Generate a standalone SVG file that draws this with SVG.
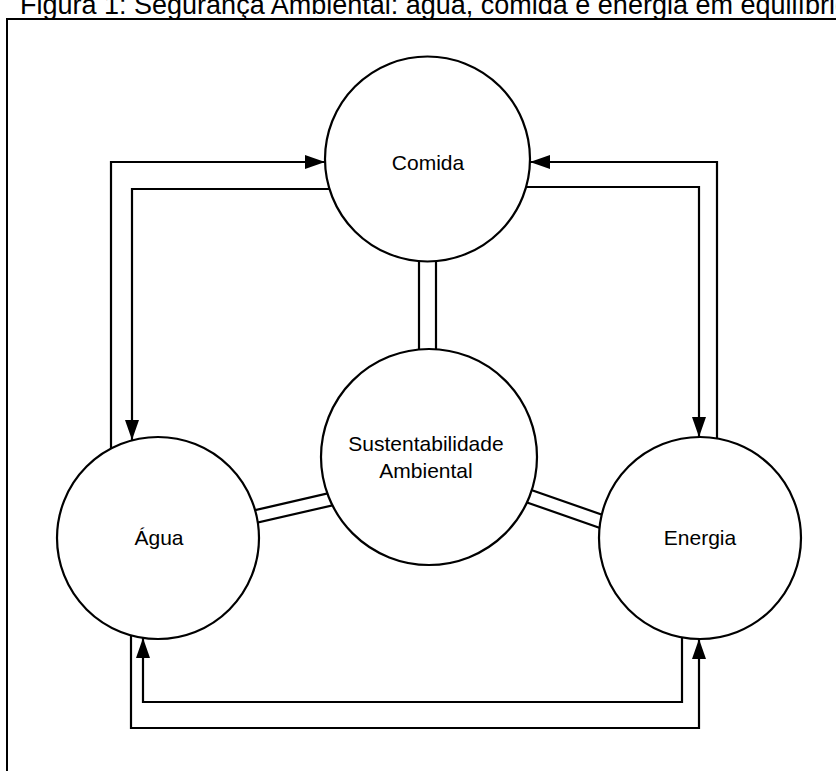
<svg xmlns="http://www.w3.org/2000/svg" width="836" height="771" viewBox="0 0 836 771">
<style>
.node circle{fill:#fff;stroke:#000;stroke-width:2.2}
.lbl{font-family:"Liberation Sans",Arial,sans-serif;font-size:21px;fill:#000;text-anchor:middle}
.conn path{fill:none;stroke:#000;stroke-width:2.2}
.band{fill:#fff;stroke:#000;stroke-width:2.2}
</style>
<defs>
<marker id="ah" markerUnits="userSpaceOnUse" markerWidth="22" markerHeight="16" refX="20" refY="7" orient="auto">
<path d="M0,0 L20,7 L0,14 Z" fill="#000"/>
</marker>
</defs>
<rect width="836" height="771" fill="#fff"/>
<text x="20" y="14" font-family="'Liberation Sans',Arial,sans-serif" font-size="27" fill="#000">Figura 1: Segurança Ambiental: água, comida e energia em equilíbrio</text>
<path d="M7,771 V19 H836" fill="none" stroke="#000" stroke-width="2"/>
<g id="bands">
<rect class="band" x="419" y="240" width="17" height="120"/>
<polygon class="band" points="230,516 360,486 360,499 230,529"/>
<polygon class="band" points="500,479 640,528 640,542 500,493"/>
</g>
<g id="comida" class="node"><circle cx="427.5" cy="159" r="102.5"/><text class="lbl" x="428" y="170">Comida</text></g>
<g id="sustentabilidade" class="node"><circle cx="429" cy="457" r="108"/><text class="lbl" x="426" y="451">Sustentabilidade</text><text class="lbl" x="426" y="478">Ambiental</text></g>
<g id="agua" class="node"><circle cx="158" cy="538" r="101"/><text class="lbl" x="159" y="545">Água</text></g>
<g id="energia" class="node"><circle cx="700" cy="538" r="101"/><text class="lbl" x="700" y="545">Energia</text></g>
<g id="connectors" class="conn">
<path d="M111,449 V162 H325" marker-end="url(#ah)"/>
<path d="M329,189 H132 V440" marker-end="url(#ah)"/>
<path d="M717,438 V162 H530" marker-end="url(#ah)"/>
<path d="M526,187 H699 V437" marker-end="url(#ah)"/>
<path d="M682,637 V702 H143 V638" marker-end="url(#ah)"/>
<path d="M131,635 V728 H699 V639" marker-end="url(#ah)"/>
</g>
</svg>
